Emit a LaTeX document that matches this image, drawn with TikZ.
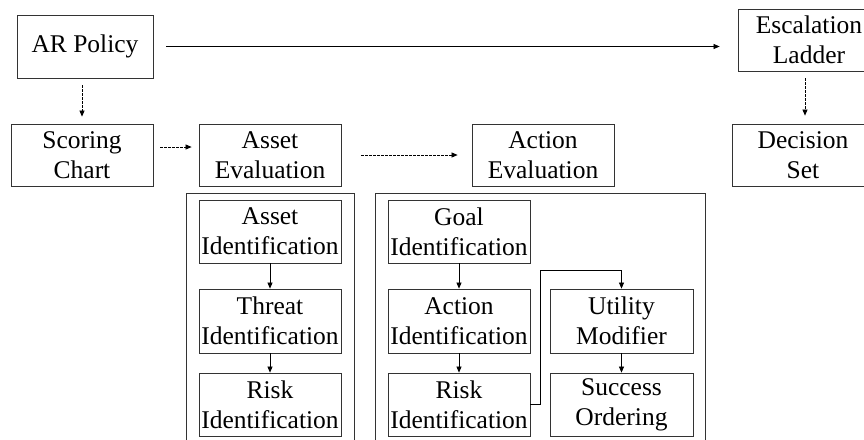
\documentclass[tikz,border=0pt]{standalone}
\usepackage{fontspec}
\setmainfont{Liberation Serif}
\usetikzlibrary{arrows.meta}
\newcommand{\boxfont}{\fontsize{25.5}{30}\selectfont}
\begin{document}
\begin{tikzpicture}[x=1pt,y=-1pt,
  bx/.style={draw=black!80, line width=0.8pt, inner sep=0pt, align=center, font=\boxfont,
             minimum width=142pt, minimum height=62pt},
  arr/.style={line width=0.7pt, -{Triangle[length=6pt,width=5pt]}},
  darr/.style={arr, dash pattern=on 2.5pt off 1.5pt},
  cont/.style={draw=black!80, line width=0.8pt}]
\useasboundingbox (0,0) rectangle (864,439);
\fill[white] (0,0) rectangle (864,439);
% top row
\node[bx, minimum width=136pt, minimum height=63pt] (arpol) at (85,46.5) {AR Policy};
\node[bx] (esc) at (809,40) {Escalation\\Ladder};
% second row
\node[bx] (scoring) at (82,155) {Scoring\\Chart};
\node[bx] (asseval) at (270,155) {Asset\\Evaluation};
\node[bx] (acteval) at (543,155) {Action\\Evaluation};
\node[bx] (decision) at (803,155) {Decision\\Set};
% containers
\draw[cont] (186,445) -- (186,193) -- (354,193) -- (354,445);
\draw[cont] (375,445) -- (375,193) -- (705,193) -- (705,445);
% asset evaluation steps
\node[bx, minimum height=63pt] (assetid) at (270,231.5) {Asset\\Identification};
\node[bx, minimum height=64pt] (threatid) at (270,321) {Threat\\Identification};
\node[bx, minimum height=63pt] (riskid) at (270,404.5) {Risk\\Identification};
% action evaluation steps
\node[bx, minimum height=63pt] (goalid) at (459,231.5) {Goal\\Identification};
\node[bx, minimum height=64pt] (actionid) at (459,321) {Action\\Identification};
\node[bx, minimum height=63pt] (riskid2) at (459,404.5) {Risk\\Identification};
\node[bx, minimum width=143pt, minimum height=64pt] (utility) at (621.5,321) {Utility\\Modifier};
\node[bx, minimum width=143pt, minimum height=63pt] (success) at (621.5,404.5) {Success\\Ordering};
% connectors
\draw[arr, shorten <=13pt, shorten >=18pt] (arpol.east) -- (arpol.east -| esc.west);
\draw[darr, shorten <=7pt, shorten >=7pt] (scoring.north |- arpol.south) -- (scoring.north);
\draw[darr, shorten <=7pt, shorten >=7pt] ([yshift=8pt]scoring.east) -- ([yshift=8pt]asseval.west);
\draw[darr, shorten <=20pt, shorten >=14pt] (asseval.east) -- (acteval.west);
\draw[darr, shorten <=7pt, shorten >=8pt] ([xshift=-4pt]esc.south) -- ([xshift=-4pt]esc.south |- decision.north);
\draw[arr] (assetid.south) -- (threatid.north);
\draw[arr] (threatid.south) -- (riskid.north);
\draw[arr] (goalid.south) -- (actionid.north);
\draw[arr] (actionid.south) -- (riskid2.north);
\draw[arr] (utility.south) -- (success.north);
\coordinate (bend) at (540,270);
\draw[arr] (riskid2.east) -| (bend) -| (utility.north);
\end{tikzpicture}
\end{document}
